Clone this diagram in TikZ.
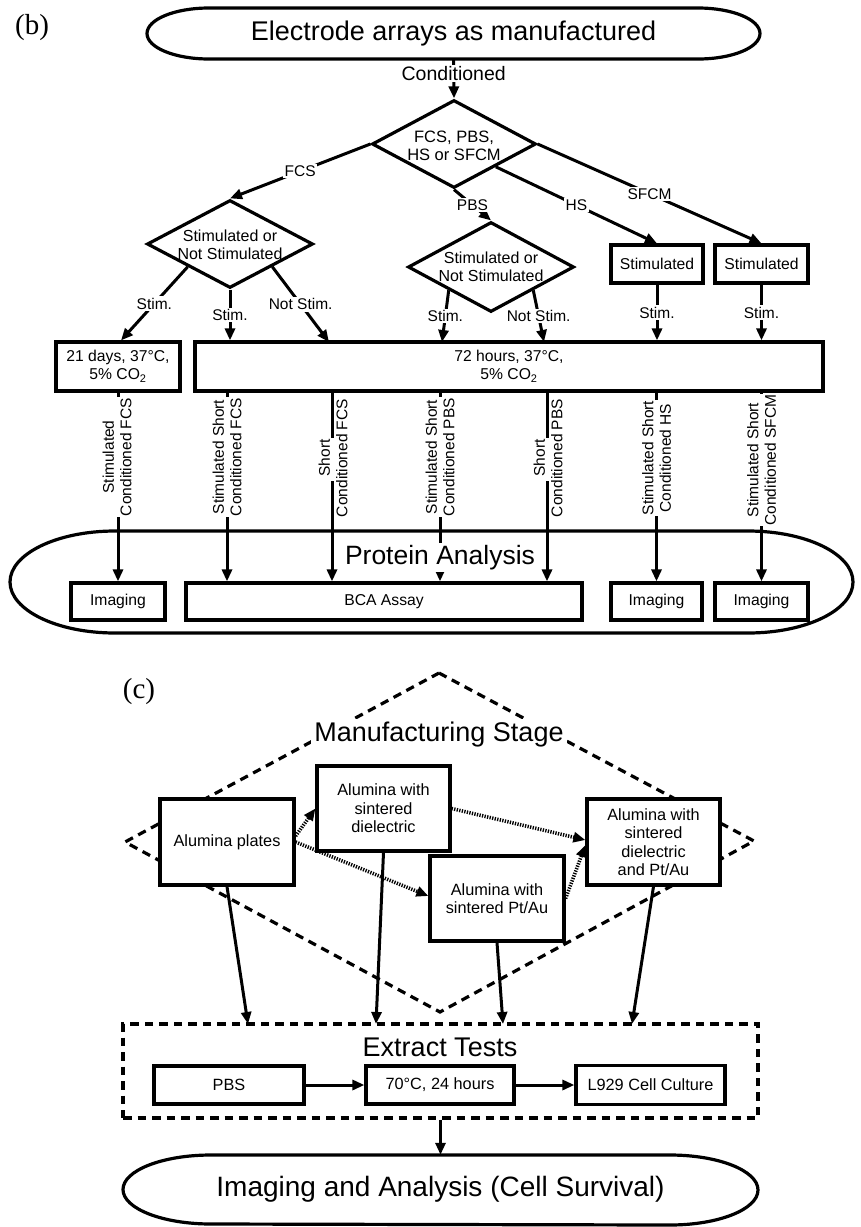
\documentclass[tikz,border=0pt]{standalone}
\usepackage{fontspec}
\setmainfont{Liberation Sans}
\newfontfamily\serifpanel{Liberation Serif}
\usetikzlibrary{arrows.meta,shapes.geometric}
\begin{document}
\begin{tikzpicture}[x=1pt,y=-1pt,
  lw/.style={line width=3.2pt},
  box/.style={draw, line width=3.2pt, fill=white, inner sep=0pt, align=center, font=\fontsize{15.7}{18}\selectfont},
  cbox/.style={box, font=\fontsize{16.3}{18.5}\selectfont},
  dia/.style={draw, diamond, line width=3.2pt, fill=white, inner sep=0pt},
  txt/.style={inner sep=0pt, align=center, font=\fontsize{16}{18}\selectfont},
  arr/.style={line width=3pt, -{Triangle[length=12pt,width=10pt]}},
  dotarr/.style={line width=3.6pt, dash pattern=on 1.3pt off 1.3pt, -{Triangle[length=12pt,width=10pt]}},
  dashline/.style={line width=3.2pt, dash pattern=on 8.5pt off 6pt},
  elab/.style={fill=white, inner sep=1.5pt, font=\fontsize{15.5}{17}\selectfont},
  rlab/.style={rotate=90, align=center, inner sep=1pt, font=\fontsize{15.5}{17.5}\selectfont},
  big/.style={font=\fontsize{27}{30}\selectfont},
  panel/.style={font=\serifpanel\fontsize{29}{32}\selectfont}
]
\useasboundingbox (0,0) rectangle (861,1227);

% ================= (b) =================
\node[panel] (pb) at (32,28) {(b)};
\draw[lw] (209,8) -- (698,8) arc[start angle=90,end angle=-90,x radius=62pt,y radius=25.5pt] -- (209,59) arc[start angle=270,end angle=90,x radius=62pt,y radius=25.5pt] -- cycle;
\node[big, minimum height=51pt, inner sep=0pt] (title) at (453.5,33.5) {Electrode arrays as manufactured};

\node[dia, minimum width=164pt, minimum height=88pt] (d0) at (454,144) {};
\node[txt, font=\fontsize{16.5}{18}\selectfont] (d0t) at (454,146) {FCS, PBS,\\HS or SFCM};
\node[dia, minimum width=166pt, minimum height=88pt] (ld) at (230,244) {};
\node[txt] (ldt) at (230,244.5) {Stimulated or\\Not Stimulated};
\node[dia, minimum width=166pt, minimum height=90pt] (md) at (491,267) {};
\node[txt] (mdt) at (491,267) {Stimulated or\\Not Stimulated};

\node[box, minimum width=92pt, minimum height=38pt] (s1) at (657,264) {Stimulated};
\node[box, minimum width=93pt, minimum height=38pt] (s2) at (761.5,264) {Stimulated};
\node[box, minimum width=124pt, minimum height=49pt] (d21) at (118,366.5) {21 days, 37°C,\\5\% CO\textsubscript{2}};
\node[box, minimum width=628pt, minimum height=49pt] (b72) at (509,366.5) {72 hours, 37°C,\\5\% CO\textsubscript{2}};

\draw[arr] (title.south) -- node[elab, pos=0.37, font=\fontsize{19.5}{21}\selectfont] {Conditioned} (d0.north);
\draw[arr] (d0.west) -- node[elab] {FCS} (ld.north);
\draw[arr] (d0.south) -- node[elab] {PBS} (md.north);
\draw[arr] (d0.south east) -- node[elab] {HS} (s1.north);
\draw[arr] (d0.east) -- node[elab] {SFCM} (s2.north);

\coordinate (in3) at (329,342);
\coordinate (in4) at (442,342);
\coordinate (in5) at (544,342);
\draw[arr] (ld.south west) -- node[elab] {Stim.} ([xshift=3pt]d21.north);
\draw[arr] (ld.south) -- node[elab] {Stim.} (ld.south |- b72.north);
\draw[arr] (ld.south east) -- node[elab] {Not Stim.} (in3);
\draw[arr] (md.south west) -- node[elab] {Stim.} (in4);
\draw[arr] (md.south east) -- node[elab] {Not Stim.} (in5);
\draw[arr] (s1.south) -- node[elab] {Stim.} (s1.south |- b72.north);
\draw[arr] (s2.south) -- node[elab] {Stim.} (s2.south |- b72.north);

% Protein analysis
\draw[lw] (115,531) -- (748,531) arc[start angle=90,end angle=-90,x radius=105pt,y radius=51pt] -- (115,633) arc[start angle=270,end angle=90,x radius=105pt,y radius=51pt] -- cycle;
\node[box, minimum width=94pt, minimum height=37pt] (im1) at (118,601.5) {Imaging};
\node[box, minimum width=396pt, minimum height=37pt] (bca) at (384,601.5) {BCA Assay};
\node[box, minimum width=91pt, minimum height=37pt] (im2) at (656.5,601.5) {Imaging};
\node[box, minimum width=93pt, minimum height=37pt] (im3) at (761.5,601.5) {Imaging};

\coordinate (o2) at (227,391);
\coordinate (o3) at (332,391);
\coordinate (o4) at (440,391);
\coordinate (o5) at (547,391);
\coordinate (o6) at (656.5,391);
\coordinate (o7) at (761.5,391);
\draw[arr] (d21.south) -- (im1.north);
\draw[arr] (o2) -- (o2 |- bca.north);
\draw[arr] (o3) -- (o3 |- bca.north);
\draw[arr] (o4) -- (o4 |- bca.north);
\draw[arr] (o5) -- (o5 |- bca.north);
\draw[arr] (o6) -- (im2.north);
\draw[arr] (o7) -- (im3.north);

\node[rlab, fill=white] (r1) at (117,457) {Stimulated\\Conditioned FCS};
\node[rlab, fill=white] (r2) at (227,457) {Stimulated Short\\Conditioned FCS};
\fill[white] (329,438) rectangle (336,481);
\node[rlab] (r3) at (333,458) {Short\\Conditioned FCS};
\node[rlab, fill=white] (r4) at (440,457) {Stimulated Short\\Conditioned PBS};
\fill[white] (544,438) rectangle (551,481);
\node[rlab] (r5) at (548,458) {Short\\Conditioned PBS};
\node[rlab, fill=white] (r6) at (656.5,458) {Stimulated Short\\Conditioned HS};
\node[rlab, fill=white] (r7) at (761.5,460) {Stimulated Short\\Conditioned SFCM};

\node[fill=white, inner sep=2pt, font=\fontsize{26.5}{29}\selectfont] (pa) at (440,557.5) {Protein Analysis};

% ================= (c) =================
\node[panel] (pc) at (139,692) {(c)};
\draw[dashline] (439,673) -- (754,841) -- (440,1012) -- (125,842) -- cycle;
\node[big, fill=white, inner sep=3pt] (ms) at (439,735) {Manufacturing Stage};

\node[cbox, minimum width=134pt, minimum height=86pt] (plates) at (227,842) {Alumina plates};
\node[cbox, minimum width=133pt, minimum height=85pt] (diel) at (383.5,808.5) {Alumina with\\sintered\\dielectric};
\node[cbox, minimum width=133pt, minimum height=86pt] (fin) at (653.5,842) {Alumina with\\sintered\\dielectric\\and Pt/Au};
\node[cbox, minimum width=134pt, minimum height=85pt] (ptau) at (497,898.5) {Alumina with\\sintered Pt/Au};

\draw[dotarr] ([yshift=6pt]plates.east) -- (diel.west);
\draw[dotarr] (plates.east) -- ([yshift=2.5pt]ptau.west);
\draw[dotarr] (diel.east) -- ([yshift=2pt]fin.west);
\draw[dotarr] (ptau.east) -- ([yshift=-3pt]fin.west);

\node[draw, dashline, minimum width=635pt, minimum height=94pt, inner sep=0pt] (ext) at (440.5,1071) {};
\coordinate (e1) at (248,1024);
\coordinate (e2) at (376,1024);
\coordinate (e3) at (503,1024);
\coordinate (e4) at (632,1024);
\draw[arr] (plates.south) -- (e1);
\draw[arr] (diel.south) -- (e2);
\draw[arr] (ptau.south) -- (e3);
\draw[arr] (fin.south) -- (e4);

\node[big] (et) at (440,1047) {Extract Tests};
\node[cbox, minimum width=150pt, minimum height=38pt] (pbs) at (229,1085) {PBS};
\node[cbox, minimum width=148pt, minimum height=38pt] (t70) at (440,1085) {70°C, 24 hours};
\node[cbox, minimum width=149pt, minimum height=39pt] (l929) at (650.5,1085) {L929 Cell Culture};
\draw[arr] (pbs.east) -- (t70.west);
\draw[arr] (t70.east) -- (l929.west);

\draw[lw] (211,1155) -- (670,1155) arc[start angle=90,end angle=-90,x radius=88pt,y radius=35pt] -- (211,1224) arc[start angle=270,end angle=90,x radius=88pt,y radius=34.5pt] -- cycle;
\node[minimum height=69pt, inner sep=0pt, font=\fontsize{28}{31}\selectfont] (ia) at (440.5,1189.5) {Imaging and Analysis (Cell Survival)};
\draw[arr] (ext.south) -- (ia.north);
\end{tikzpicture}
\end{document}
